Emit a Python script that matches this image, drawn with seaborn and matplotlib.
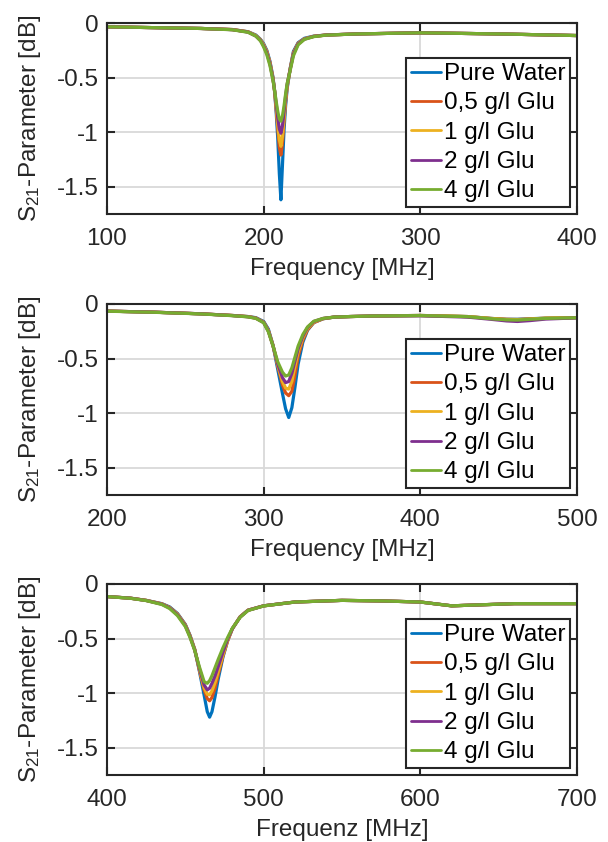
import matplotlib
matplotlib.use("Agg")
import matplotlib.pyplot as plt
import seaborn as sns
import pandas as pd
from matplotlib.ticker import FuncFormatter

# ---------------- data ----------------
labels = ["Pure Water", "0,5 g/l Glu", "1 g/l Glu", "2 g/l Glu", "4 g/l Glu"]
colors = ["#0072BD", "#D95319", "#EDB120", "#7E2F8E", "#77AC30"]

# Panel 1 (100-400 MHz)
f1 = [100, 120, 140, 160, 180, 190, 195, 198, 200, 202, 204, 206, 207, 208, 209, 210,
      211, 212, 213, 214, 215, 217, 219, 222, 226, 232, 240, 260, 300, 350, 400]
p1_water = [-0.035, -0.040, -0.045, -0.050, -0.060, -0.080, -0.110, -0.150, -0.190, -0.250, -0.350,
            -0.500, -0.630, -0.820, -1.060, -1.380, -1.620, -1.300, -0.980, -0.760, -0.600, -0.410,
            -0.260, -0.180, -0.140, -0.120, -0.110, -0.100, -0.090, -0.100, -0.115]
p1_g05 = [-0.035, -0.040, -0.045, -0.050, -0.060, -0.081, -0.115, -0.155, -0.200, -0.260, -0.360,
          -0.510, -0.630, -0.790, -0.970, -1.140, -1.210, -1.100, -0.900, -0.720, -0.585, -0.415,
          -0.272, -0.185, -0.145, -0.122, -0.110, -0.100, -0.090, -0.100, -0.115]
p1_g1 = [-0.035, -0.040, -0.045, -0.050, -0.060, -0.081, -0.115, -0.155, -0.200, -0.265, -0.365,
         -0.515, -0.625, -0.770, -0.930, -1.070, -1.130, -1.040, -0.870, -0.700, -0.575, -0.415,
         -0.278, -0.188, -0.146, -0.122, -0.110, -0.100, -0.090, -0.100, -0.115]
p1_g2 = [-0.035, -0.040, -0.045, -0.050, -0.061, -0.083, -0.120, -0.160, -0.210, -0.275, -0.375,
         -0.520, -0.620, -0.740, -0.870, -0.970, -1.010, -0.940, -0.810, -0.670, -0.560, -0.420,
         -0.285, -0.192, -0.148, -0.123, -0.110, -0.100, -0.090, -0.100, -0.115]
p1_g4 = [-0.035, -0.040, -0.045, -0.050, -0.062, -0.085, -0.120, -0.165, -0.220, -0.290, -0.390,
         -0.530, -0.620, -0.720, -0.810, -0.880, -0.900, -0.850, -0.760, -0.650, -0.555, -0.430,
         -0.300, -0.200, -0.150, -0.125, -0.111, -0.100, -0.090, -0.100, -0.115]

# Panel 2 (200-500 MHz)
f2 = [200, 230, 260, 280, 290, 295, 300, 303, 306, 309, 312, 314, 316, 318, 320, 322,
      325, 328, 332, 338, 345, 355, 370, 400, 430, 445, 455, 462, 470, 480, 500]
p2_water = [-0.065, -0.075, -0.090, -0.105, -0.115, -0.125, -0.160, -0.230, -0.380, -0.600, -0.820,
            -0.960, -1.040, -0.950, -0.760, -0.550, -0.350, -0.240, -0.170, -0.135, -0.120, -0.115,
            -0.110, -0.105, -0.115, -0.132, -0.140, -0.140, -0.135, -0.130, -0.125]
p2_g05 = [-0.065, -0.075, -0.090, -0.105, -0.115, -0.128, -0.165, -0.240, -0.380, -0.570, -0.740,
          -0.815, -0.840, -0.800, -0.650, -0.480, -0.330, -0.235, -0.170, -0.135, -0.120, -0.115,
          -0.110, -0.105, -0.115, -0.132, -0.140, -0.142, -0.137, -0.130, -0.125]
p2_g1 = [-0.065, -0.075, -0.090, -0.105, -0.116, -0.129, -0.168, -0.245, -0.385, -0.560, -0.710,
         -0.770, -0.780, -0.710, -0.570, -0.440, -0.310, -0.225, -0.165, -0.133, -0.120, -0.115,
         -0.110, -0.105, -0.115, -0.133, -0.142, -0.144, -0.138, -0.130, -0.125]
p2_g2 = [-0.065, -0.075, -0.090, -0.106, -0.117, -0.130, -0.170, -0.250, -0.385, -0.550, -0.675,
         -0.720, -0.710, -0.635, -0.520, -0.410, -0.295, -0.215, -0.160, -0.132, -0.120, -0.115,
         -0.110, -0.108, -0.120, -0.140, -0.155, -0.160, -0.152, -0.138, -0.127]
p2_g4 = [-0.066, -0.076, -0.091, -0.107, -0.118, -0.132, -0.172, -0.255, -0.385, -0.530, -0.625,
         -0.660, -0.650, -0.585, -0.485, -0.385, -0.280, -0.210, -0.158, -0.132, -0.120, -0.115,
         -0.110, -0.106, -0.116, -0.135, -0.145, -0.147, -0.140, -0.132, -0.126]

# Panel 3 (400-700 MHz)
f3 = [400, 415, 425, 435, 440, 445, 450, 453, 456, 459, 462, 464, 465.5, 467, 469, 471,
      474, 477, 480, 485, 490, 500, 520, 550, 575, 600, 620, 640, 660, 700]
p3_water = [-0.115, -0.130, -0.150, -0.180, -0.210, -0.270, -0.370, -0.470, -0.600, -0.800, -1.020,
            -1.170, -1.220, -1.170, -1.030, -0.870, -0.670, -0.520, -0.410, -0.300, -0.240, -0.200,
            -0.165, -0.150, -0.155, -0.165, -0.200, -0.190, -0.180, -0.180]
p3_g05 = [-0.115, -0.130, -0.150, -0.182, -0.215, -0.275, -0.375, -0.475, -0.600, -0.790, -0.970,
          -1.050, -1.070, -1.040, -0.950, -0.830, -0.660, -0.520, -0.410, -0.300, -0.240, -0.200,
          -0.165, -0.150, -0.155, -0.165, -0.200, -0.190, -0.180, -0.180]
p3_g1 = [-0.115, -0.130, -0.150, -0.183, -0.217, -0.278, -0.378, -0.478, -0.600, -0.785, -0.950,
         -1.010, -1.015, -0.980, -0.900, -0.800, -0.650, -0.515, -0.410, -0.300, -0.240, -0.200,
         -0.165, -0.150, -0.155, -0.165, -0.200, -0.190, -0.180, -0.180]
p3_g2 = [-0.115, -0.130, -0.151, -0.185, -0.220, -0.283, -0.383, -0.483, -0.605, -0.775, -0.925,
         -0.970, -0.955, -0.910, -0.840, -0.755, -0.625, -0.505, -0.410, -0.302, -0.241, -0.200,
         -0.165, -0.150, -0.155, -0.165, -0.200, -0.190, -0.180, -0.180]
p3_g4 = [-0.115, -0.131, -0.152, -0.188, -0.225, -0.290, -0.390, -0.490, -0.610, -0.760, -0.895,
         -0.910, -0.885, -0.840, -0.765, -0.690, -0.585, -0.490, -0.405, -0.305, -0.243, -0.201,
         -0.165, -0.150, -0.155, -0.165, -0.200, -0.190, -0.180, -0.180]

panels = [
    dict(f=f1, ys=[p1_water, p1_g05, p1_g1, p1_g2, p1_g4], xlim=(100, 400),
         xticks=[100, 200, 300, 400], xlabel="Frequency [MHz]"),
    dict(f=f2, ys=[p2_water, p2_g05, p2_g1, p2_g2, p2_g4], xlim=(200, 500),
         xticks=[200, 300, 400, 500], xlabel="Frequency [MHz]"),
    dict(f=f3, ys=[p3_water, p3_g05, p3_g1, p3_g2, p3_g4], xlim=(400, 700),
         xticks=[400, 500, 600, 700], xlabel="Frequenz [MHz]"),
]
yticks = [-1.5, -1, -0.5, 0]

# ---------------- style ----------------
sns.set_theme(style="ticks")
plt.rcParams["font.family"] = ["Liberation Sans", "DejaVu Sans"]
plt.rcParams["axes.unicode_minus"] = False
plt.rcParams["mathtext.fontset"] = "custom"
plt.rcParams["mathtext.rm"] = "Liberation Sans"
plt.rcParams["mathtext.it"] = "Liberation Sans:italic"

FS = 17.5
txt = "#262626"

fig = plt.figure(figsize=(6.08, 8.42), dpi=100)
L, W, H = 107 / 608, 470 / 608, 191 / 842
tops = [23, 304, 584]

for p, top in zip(panels, tops):
    ax = fig.add_axes([L, 1 - (top + 191) / 842, W, H])
    rows = []
    for lab, y in zip(labels, p["ys"]):
        for fx, v in zip(p["f"], y):
            rows.append((fx, v, lab))
    df = pd.DataFrame(rows, columns=["f", "s21", "sample"])
    sns.lineplot(data=df, x="f", y="s21", hue="sample", hue_order=labels,
                 palette=colors, linewidth=2.3, ax=ax, sort=True, estimator=None)
    ax.set_xlim(*p["xlim"])
    ax.set_ylim(-1.75, 0)
    ax.set_xticks(p["xticks"])
    ax.set_yticks(yticks)
    ax.yaxis.set_major_formatter(FuncFormatter(lambda v, _: "%g" % v))
    ax.grid(True, color="#d9d9d9", linewidth=1.3)
    ax.set_axisbelow(True)
    for s in ax.spines.values():
        s.set_visible(True)
        s.set_color(txt)
        s.set_linewidth(1.5)
    ax.tick_params(direction="in", length=6, width=1.5, top=True, right=True,
                   labelsize=FS, colors=txt)
    ax.tick_params(axis="x", pad=10)
    ax.tick_params(axis="y", pad=6)
    ax.set_xlabel(p["xlabel"], fontsize=FS, color=txt, labelpad=6)
    ax.set_ylabel(r"S$\mathregular{_{21}}$-Parameter [dB]", fontsize=FS, color=txt, labelpad=10)
    leg = ax.legend(loc="lower right", fontsize=FS, frameon=True, fancybox=False,
                    framealpha=1, edgecolor=txt, borderaxespad=0.28, borderpad=0.2,
                    handlelength=1.25, handletextpad=0.12, labelspacing=0.30)
    leg.get_frame().set_linewidth(1.5)
    for t in leg.get_texts():
        t.set_color("black")
    for ln in leg.get_lines():
        ln.set_linewidth(2.0)

fig.savefig("out.png", dpi=100)
